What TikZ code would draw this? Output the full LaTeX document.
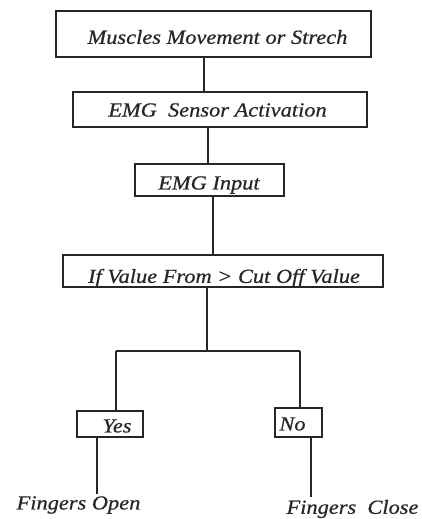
\documentclass[tikz,border=0pt]{standalone}
\usepackage{fontspec}
\setmainfont{Liberation Serif}[ItalicFeatures={FakeStretch=1.12,FakeBold=0.6}]
\begin{document}
\begin{tikzpicture}[x=1pt,y=-1pt,
  box/.style={draw=black!85,line width=1.3pt,rectangle,inner sep=0pt},
  lbl/.style={inner sep=0pt,font=\fontsize{20}{22}\selectfont\itshape,text=black!85},
  conn/.style={draw=black!85,line width=1.1pt}]
\useasboundingbox (0,0) rectangle (422,519);
% boxes
\node[box,minimum width=315pt,minimum height=46pt] (b1) at (213.5,34) {};
\node[box,minimum width=294pt,minimum height=35pt] (b2) at (220,109.5) {};
\node[box,minimum width=149pt,minimum height=32pt] (b3) at (209.5,180) {};
\node[box,minimum width=320pt,minimum height=32pt] (b4) at (223,271) {};
\node[box,minimum width=66pt,minimum height=26pt] (yes) at (110,424) {};
\node[box,minimum width=47pt,minimum height=29pt] (no) at (298.5,422.5) {};
% texts
\node[lbl] (t1) at (217.5,37) {Muscles Movement or Strech};
\node[lbl] (t2) at (217.5,110) {EMG\ \ Sensor Activation};
\node[lbl] (t3) at (209,185) {EMG Input};
\node[lbl] (t4) at (224,278) {If Value From > Cut Off Value};
\node[lbl] (t5) at (117,426) {Yes};
\node[lbl] (t6) at (292.5,424) {No};
\node[lbl] (fo) at (78.5,505) {Fingers Open};
\node[lbl] (fc) at (352.5,509) {Fingers\ \ Close};
% connectors
\coordinate (j) at (207,351);
\coordinate (jl) at (116,351);
\coordinate (jr) at (300,351);
\coordinate (eo) at (97,494);
\coordinate (ec) at (311,497);
\draw[conn] (b1.south -| 204,0) -- (b2.north -| 204,0);
\draw[conn] (b2.south -| 208,0) -- (b3.north -| 208,0);
\draw[conn] (b3.south -| 213,0) -- (b4.north -| 213,0);
\draw[conn] (b4.south -| j) -- (j);
\draw[conn] (jl) -- (jr);
\draw[conn] (jl) -- (yes.north -| jl);
\draw[conn] (jr) -- (no.north -| jr);
\draw[conn] (yes.south -| eo) -- (eo);
\draw[conn] (no.south -| ec) -- (ec);
\end{tikzpicture}
\end{document}
